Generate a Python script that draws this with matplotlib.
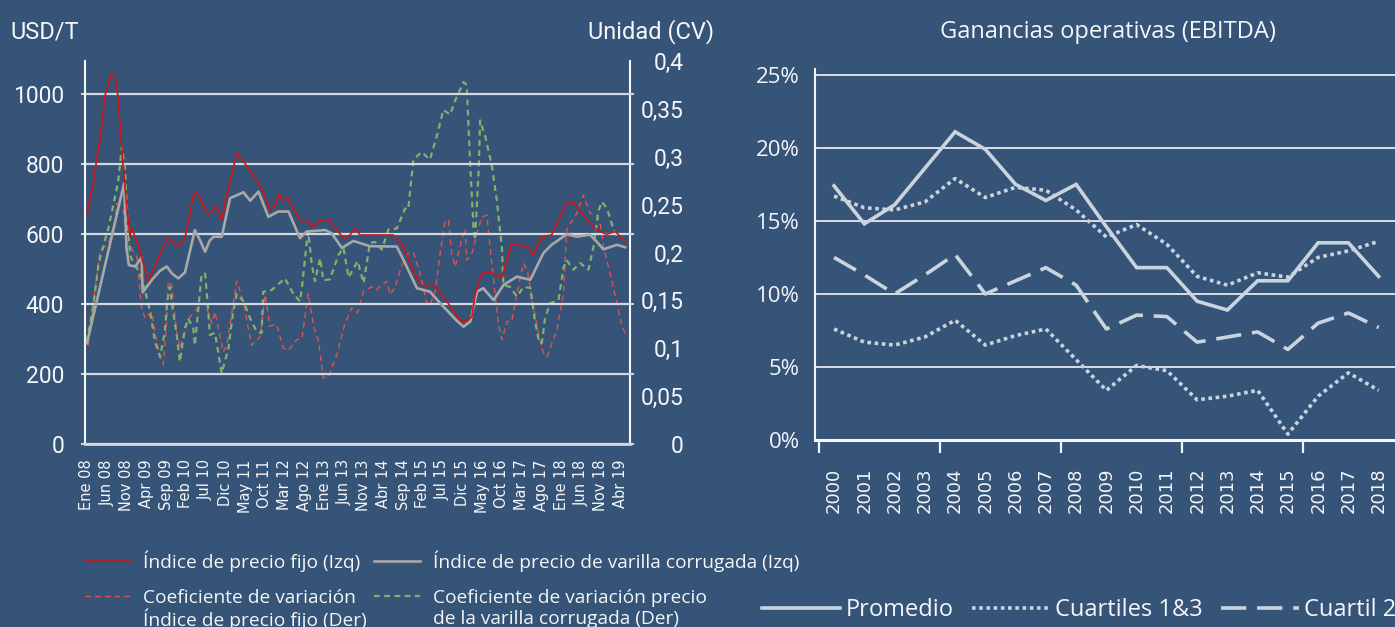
import matplotlib
matplotlib.use('Agg')
import matplotlib.pyplot as plt

plt.rcParams['font.family'] = 'Roboto'

BG = '#365378'
FG = '#F4F6F8'
GRID = '#D3D8DF'

# ---------------- left chart: monthly series, month 0 = Ene 08 ----------------
month_labels = ['Ene 08', 'Jun 08', 'Nov 08', 'Apr 09', 'Sep 09', 'Feb 10', 'Jul 10',
                'Dic 10', 'May 11', 'Oct 11', 'Mar 12', 'Ago 12', 'Ene 13', 'Jun 13',
                'Nov 13', 'Abr 14', 'Sep 14', 'Feb 15', 'Jul 15', 'Dic 15', 'May 16',
                'Oct 16', 'Mar 17', 'Ago 17', 'Ene 18', 'Jun 18', 'Nov 18', 'Abr 19']
label_months = list(range(0, 136, 5))

# Indice de precio fijo (USD/T)
fijo_m = [0, 1.6, 3.3, 4.6, 6.2, 7.1, 7.9, 8.8, 10.0, 10.9, 11.3, 12.2, 13.0, 15.5,
          18.5, 20.4, 23.1, 24.8, 26.9, 27.8, 30.7, 32.8, 34.1, 35.4, 37.9, 41.3,
          44.2, 46.3, 47.6, 48.6, 49.3, 50.7, 53.9, 56.0, 57.3, 59.0, 61.1, 64.9,
          66.6, 67.8, 69.1, 77.5, 79.7, 84.3, 87.7, 91.1, 94.4, 96.1, 97.4, 98.2,
          99.9, 102.0, 105.0, 107.3, 109.2, 111.7, 113.0, 115.1, 117.6, 121.4,
          123.1, 125.6, 129.0, 131.5, 133.7, 136.2]
fijo_v = [654, 749, 873, 997, 1057, 1049, 988, 845, 683, 592, 617, 592, 568, 464,
          543, 589, 564, 588, 711, 719, 654, 681, 640, 711, 830, 783,
          730, 669, 683, 716, 697, 704, 638, 635, 621, 638, 642, 588,
          597, 618, 597, 597, 569, 454, 452, 407, 354, 351, 364, 426,
          488, 492, 475, 569, 573, 559, 540, 592, 597, 688,
          690, 654, 611, 599, 607, 578]

# Indice de precio de varilla corrugada (USD/T)
varilla_m = [0, 9.4, 10.0, 10.6, 12.2, 13.8, 14.1, 16.5, 18.5, 20.2, 21.5, 23.1, 24.8,
             27.3, 28.5, 29.9, 31.0, 32.0, 34.1, 36.2, 39.6, 41.3, 43.4, 45.9, 48.4,
             51.0, 53.9, 55.6, 60.3, 61.9, 64.5, 67.4, 71.6, 78.4, 80.1, 83.5, 86.8,
             89.4, 93.6, 95.3, 97.0, 98.7, 100.3, 102.9, 105.4, 108.8, 112.2, 115.5,
             117.6, 121.4, 124.0, 127.3, 129.0, 130.7, 134.1, 136.2]
varilla_v = [288, 745, 560, 511, 507, 533, 433, 470, 495, 507, 487, 473, 490,
             611, 585, 549, 580, 592, 592, 702, 719, 695, 721, 649, 664,
             664, 588, 607, 611, 602, 560, 580, 565, 564, 526, 445, 435,
             402, 352, 335, 350, 435, 445, 411, 454, 478, 469, 545,
             569, 599, 592, 598, 578, 556, 569, 562]

# Coeficiente de variacion, indice de precio fijo (CV)
cv_fijo_m = [0.3, 2.0, 3.3, 4.1, 5.8, 7.1, 7.5, 9.2, 10.0, 11.7, 12.6, 13.8, 14.7, 16.4,
             17.2, 18.5, 19.3, 20.0, 20.6, 21.4, 22.7, 23.5, 25.1, 26.1, 28.2, 29.9,
             31.6, 32.4, 34.5, 35.4, 37.9, 39.6, 40.8, 41.7, 43.8, 45.1, 46.3, 48.0,
             49.7, 51.0, 53.1, 54.4, 56.0, 57.3, 58.6, 59.8, 61.1, 63.2, 65.3, 67.0,
             68.5, 70.0, 72.1, 73.3, 74.6, 75.9, 76.7, 78.0, 79.7, 81.3, 82.6, 84.3,
             86.0, 86.8, 88.1, 89.4, 90.6, 91.5, 92.3, 93.2, 94.8, 95.7, 96.1, 97.5,
             98.7, 99.9, 101.2, 102.0, 104.1, 105.0, 106.3, 107.5, 108.8, 110.5, 111.5,
             113.0, 114.5, 115.5, 116.4, 118.9, 120.6, 121.4, 124.0, 125.6, 127.3,
             129.0, 129.9, 130.7, 132.4, 134.1, 135.4, 136.2]
cv_fijo_v = [0.103, 0.160, 0.201, 0.204, 0.213, 0.234, 0.251, 0.244, 0.213, 0.201, 0.196,
             0.143, 0.131, 0.138, 0.117, 0.090, 0.083, 0.117, 0.170, 0.166, 0.117, 0.100,
             0.123, 0.133, 0.143, 0.147, 0.126, 0.138, 0.096, 0.103, 0.170, 0.149, 0.121,
             0.103, 0.112, 0.156, 0.123, 0.125, 0.100, 0.098, 0.109, 0.110, 0.157, 0.124,
             0.107, 0.069, 0.070, 0.093, 0.126, 0.142, 0.137, 0.160, 0.164, 0.161, 0.166,
             0.170, 0.156, 0.164, 0.187, 0.199, 0.200, 0.178, 0.147, 0.145, 0.159, 0.200,
             0.232, 0.234, 0.199, 0.185, 0.213, 0.225, 0.192, 0.200, 0.220, 0.237, 0.239,
             0.206, 0.126, 0.109, 0.128, 0.128, 0.157, 0.189, 0.180, 0.143, 0.110, 0.095,
             0.091, 0.119, 0.157, 0.224, 0.241, 0.260, 0.241, 0.239, 0.230, 0.206, 0.178,
             0.147, 0.123, 0.116]

# Coeficiente de variacion, precio de la varilla corrugada (CV)
cv_varilla_m = [0.0, 1.6, 2.9, 4.0, 5.4, 7.9, 8.8, 9.6, 10.0, 10.9, 11.7, 13.4, 14.7, 16.0,
                17.2, 18.5, 19.7, 20.3, 21.0, 21.8, 22.7, 23.5, 24.8, 25.6, 26.9, 27.3,
                28.2, 29.0, 29.9, 30.7, 31.1, 32.4, 33.2, 34.1, 35.8, 37.0, 37.9, 39.6,
                41.3, 43.0, 44.2, 44.6, 46.8, 50.1, 52.2, 53.9, 54.4, 55.6, 56.0, 56.9,
                57.7, 59.0, 59.8, 61.5, 63.6, 64.9, 66.2, 68.5, 70.0, 71.6, 72.9, 74.6,
                76.3, 78.4, 80.5, 81.3, 82.6, 84.7, 86.8, 88.5, 90.2, 91.9, 93.2, 95.3,
                96.1, 97.0, 97.8, 98.2, 99.1, 99.5, 100.8, 102.5, 103.7, 105.0, 105.4,
                107.1, 108.8, 110.5, 112.2, 113.4, 114.3, 115.1, 115.9, 117.2, 119.3,
                120.6, 121.4, 123.1, 124.8, 126.9, 128.2, 129.4, 130.3, 131.6, 133.2, 134.5]
cv_varilla_v = [0.107, 0.145, 0.187, 0.205, 0.225, 0.274, 0.310, 0.289, 0.254, 0.197, 0.190,
                0.178, 0.160, 0.138, 0.107, 0.091, 0.117, 0.149, 0.164, 0.138, 0.114, 0.086,
                0.121, 0.131, 0.121, 0.103, 0.142, 0.177, 0.178, 0.138, 0.114, 0.116, 0.096,
                0.074, 0.100, 0.138, 0.157, 0.149, 0.131, 0.117, 0.116, 0.159, 0.161, 0.173,
                0.157, 0.149, 0.163, 0.210, 0.222, 0.187, 0.170, 0.194, 0.171, 0.172, 0.197,
                0.205, 0.174, 0.191, 0.168, 0.210, 0.211, 0.203, 0.224, 0.225, 0.246, 0.245,
                0.297, 0.305, 0.297, 0.321, 0.349, 0.344, 0.359, 0.378, 0.375, 0.290, 0.227,
                0.213, 0.283, 0.338, 0.321, 0.290, 0.255, 0.205, 0.166, 0.164, 0.154, 0.164,
                0.163, 0.128, 0.109, 0.105, 0.131, 0.147, 0.150, 0.184, 0.192, 0.182, 0.189,
                0.182, 0.206, 0.243, 0.253, 0.246, 0.225, 0.214]

usd_ticks = [0, 200, 400, 600, 800, 1000]
cv_ticks = [0, 0.05, 0.1, 0.15, 0.2, 0.25, 0.3, 0.35, 0.4]
cv_labels = ['0', '0,05', '0,1', '0,15', '0,2', '0,25', '0,3', '0,35', '0,4']

# ---------------- right chart: EBITDA margins by year ----------------
years = [str(y) for y in range(2000, 2019)]
promedio = [17.4, 14.8, 16.1, 18.6, 21.1, 19.9, 17.5, 16.4, 17.5, 14.6, 11.8, 11.8,
            9.5, 8.9, 10.9, 10.9, 13.5, 13.5, 11.2]
cuartil_3 = [16.7, 15.9, 15.75, 16.3, 17.9, 16.6, 17.3, 17.1, 15.75, 13.9, 14.75, 13.4,
             11.2, 10.6, 11.45, 11.15, 12.5, 12.95, 13.6]
cuartil_2 = [12.5, 11.3, 10.0, 11.3, 12.7, 10.0, 10.9, 11.8, 10.6, 7.6, 8.55, 8.45,
             6.7, 7.05, 7.4, 6.2, 8.0, 8.7, 7.7]
cuartil_1 = [7.6, 6.7, 6.5, 7.05, 8.2, 6.5, 7.15, 7.6, 5.5, 3.4, 5.1, 4.75,
             2.75, 3.0, 3.4, 0.4, 3.0, 4.6, 3.4]
pct_ticks = [0, 5, 10, 15, 20, 25]
pct_labels = ['0%', '5%', '10%', '15%', '20%', '25%']

W, H = 1395, 627
fig = plt.figure(figsize=(W / 100, H / 100), dpi=100, facecolor=BG)

# ================= left chart =================
ax = fig.add_axes([85 / W, 1 - 444 / H, 544.5 / W, 383 / H])
ax2 = ax.twinx()
ax.set_zorder(ax2.get_zorder() + 1)
ax.set_facecolor('none')
ax2.set_facecolor('none')

l_fijo, = ax.plot(fijo_m, fijo_v, color='#D11414', lw=1.2, zorder=4)
l_var, = ax.plot(varilla_m, varilla_v, color='#A8A8A8', lw=1.9, zorder=3)
l_cvf, = ax2.plot(cv_fijo_m, cv_fijo_v, color='#E3524C', lw=1.0, ls=(0, (4, 3)))
l_cvv, = ax2.plot(cv_varilla_m, cv_varilla_v, color='#80B26C', lw=1.6, ls=(0, (2.6, 2)))

ax.set_xlim(-0.5, 137.3)
ax.set_ylim(0, 1094)
ax2.set_ylim(0, 0.4)

ax.set_xticks(label_months)
ax.set_xticklabels(month_labels, rotation=90, fontfamily='DejaVu Sans', fontsize=10.5)
ax.tick_params(axis='x', length=0, pad=11, labelcolor=FG)
ax.set_yticks(usd_ticks)
ax.set_yticklabels([str(v) for v in usd_ticks])
ax.tick_params(axis='y', left=True, right=True, length=3, width=1.5, color=GRID,
               pad=12, labelsize=16.5, labelcolor=FG)
ax.grid(axis='y', color=GRID, lw=1.6)

ax2.set_yticks(cv_ticks)
ax2.set_yticklabels(cv_labels, ha='right')
ax2.tick_params(axis='y', length=0, pad=39, labelsize=16.5, labelcolor=FG)

for name, sp in ax.spines.items():
    sp.set_visible(name in ('left', 'bottom'))
ax.spines['left'].set_color(FG)
ax.spines['left'].set_linewidth(1.5)
ax.spines['bottom'].set_color(GRID)
ax.spines['bottom'].set_linewidth(2)
for name, sp in ax2.spines.items():
    sp.set_visible(name == 'right')
ax2.spines['right'].set_color(FG)
ax2.spines['right'].set_linewidth(1.5)

fig.text(10 / W, 1 - 32 / H, 'USD/T', ha='left', va='center', fontsize=17, color=FG)
fig.text(714 / W, 1 - 32 / H, 'Unidad (CV)', ha='right', va='center', fontsize=17, color=FG)

leg = fig.legend([l_fijo, l_cvf, l_var, l_cvv],
                 ['Índice de precio fijo (Izq)', 'Coeficiente de variación',
                  'Índice de precio de varilla corrugada (Izq)',
                  'Coeficiente de variación precio'],
                 ncol=2, loc='upper left', bbox_to_anchor=(85 / W, 1 - 550 / H),
                 frameon=False, prop={'family': 'Open Sans', 'size': 13.8},
                 labelcolor=FG, handlelength=2.4, handletextpad=0.65,
                 columnspacing=0.7, labelspacing=0.9, borderpad=0, borderaxespad=0)

# ================= right chart =================
axr = fig.add_axes([815 / W, 1 - 440 / H, 1 - 815 / W, 371 / H])
axr.set_facecolor('none')
xs = list(range(len(years)))
LC = '#C9D4DE'
r_prom, = axr.plot(xs, promedio, color=LC, lw=2.6, solid_joinstyle='miter', zorder=3)
r_c13, = axr.plot(xs, cuartil_3, color=LC, lw=2.6, ls=(0, (1, 1)), zorder=3)
axr.plot(xs, cuartil_1, color=LC, lw=2.6, ls=(0, (1, 1)), zorder=3)
r_c2, = axr.plot(xs, cuartil_2, color=LC, lw=2.6, ls=(0, (7, 3)), zorder=3)

axr.set_xlim(-0.63, 18.54)
axr.set_ylim(0, 25.4)
axr.set_xticks(xs)
axr.set_xticklabels(years, rotation=90, fontfamily='DejaVu Sans', fontsize=13)
axr.set_xticks([-0.5, 3.5, 7.5, 11.5, 15.5], minor=True)
axr.tick_params(axis='x', which='major', length=0, pad=20, labelcolor=FG)
axr.tick_params(axis='x', which='minor', length=9.5, width=1.6, color=FG)
axr.set_yticks(pct_ticks)
axr.set_yticklabels(pct_labels, fontfamily='Open Sans')
axr.tick_params(axis='y', length=0, pad=11, labelsize=16, labelcolor=FG)
axr.grid(axis='y', color=FG, lw=1.2)
for name, sp in axr.spines.items():
    sp.set_visible(name in ('left', 'bottom'))
    sp.set_color(FG)
axr.spines['left'].set_linewidth(1.5)
axr.spines['bottom'].set_linewidth(2.2)

fig.text(1108 / W, 1 - 32 / H, 'Ganancias operativas (EBITDA)', ha='center', va='center',
         fontsize=17, fontfamily='Open Sans', color=FG)

fig.legend([r_prom, r_c13, r_c2], ['Promedio', 'Cuartiles 1&3', 'Cuartil 2'],
           ncol=3, loc='center left', bbox_to_anchor=(762 / W, 1 - 610 / H),
           frameon=False, prop={'family': 'Open Sans', 'size': 17}, labelcolor=FG,
           handlelength=3.3, handletextpad=0.25, columnspacing=0.75,
           borderpad=0, borderaxespad=0)

# second lines of the two-line legend entries
fig.canvas.draw()
renderer = fig.canvas.get_renderer()
inv = fig.transFigure.inverted()
for txt, extra in zip([leg.get_texts()[1], leg.get_texts()[3]],
                      ['Índice de precio fijo (Der)', 'de la varilla corrugada (Der)']):
    bb = txt.get_window_extent(renderer)
    x, y = inv.transform((bb.x0, (bb.y0 + bb.y1) / 2 - 21))
    fig.text(x, y, extra, ha='left', va='center', fontfamily='Open Sans',
             fontsize=13.8, color=FG)

fig.savefig('out.png', dpi=100, facecolor=BG)
